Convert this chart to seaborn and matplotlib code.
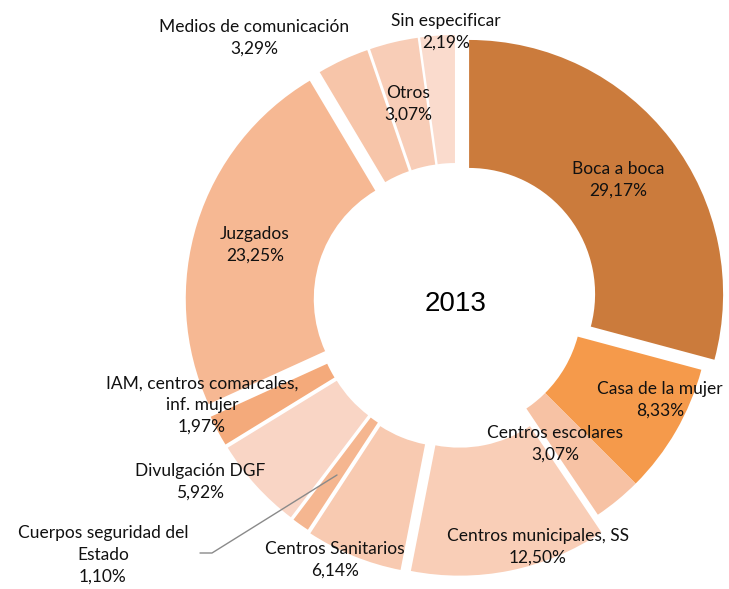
import matplotlib
matplotlib.use("Agg")
import matplotlib.pyplot as plt
import seaborn as sns

# Canales de conocimiento del servicio, año 2013 (porcentaje)
categorias = [
    "Boca a boca",
    "Casa de la mujer",
    "Centros escolares",
    "Centros municipales, SS",
    "Centros Sanitarios",
    "Cuerpos seguridad del\nEstado",
    "Divulgación DGF",
    "IAM, centros comarcales,\ninf. mujer",
    "Juzgados",
    "Medios de comunicación",
    "Otros",
    "Sin especificar",
]
porcentajes = [29.17, 8.33, 3.07, 12.50, 6.14, 1.10, 5.92, 1.97, 23.25, 3.29, 3.07, 2.19]
colores = ["#CB7B3C", "#F59A4B", "#F7C2A4", "#F9CEB7", "#F8CAB1", "#F5B690",
           "#F9D5C5", "#F4AA7B", "#F6B893", "#F7C5A9", "#F8CDB7", "#FADBCD"]
anio = "2013"

# desplazamiento de cada porción (px) y posición de sus etiquetas (px)
separacion = [16.5, 0, 0, 18, 18, 16, 16, 16, 17, 15, 15, 15]
pos_etiquetas = [(618, 180), (660, 400), (555, 444), (538, 547), (335, 560),
                 (103, 555), (200, 482), (202, 405), (255, 245), (254, 38),
                 (408, 104), (446, 32)]

sns.set_theme(style="white")
plt.rcParams["font.family"] = ["Lato", "DejaVu Sans"]

fig = plt.figure(figsize=(7.29, 5.89), dpi=100)
ax = fig.add_axes([0, 0, 1, 1])

cx, cy, radio, ancho = 456, 304, 254, 128
ax.pie(porcentajes, colors=sns.color_palette(colores), explode=separacion,
       center=(cx, cy), radius=radio, startangle=-90, counterclock=True,
       wedgeprops=dict(width=ancho, linewidth=0))

ax.set_xlim(0, 729)
ax.set_ylim(589, 0)
ax.set_aspect("equal")
ax.axis("off")

def fmt(v):
    return f"{v:.2f}".replace(".", ",") + "%"

for cat, val, (x, y) in zip(categorias, porcentajes, pos_etiquetas):
    ax.text(x, y, f"{cat}\n{fmt(val)}", ha="center", va="center",
            fontsize=12.5, color="#111111", linespacing=1.45)

# línea guía para la porción pequeña
ax.plot([200, 212, 337], [553, 553, 475], color="#8a8a8a", linewidth=1)

ax.text(cx, cy, anio, ha="center", va="center", fontsize=20,
        family="Liberation Sans", color="#000000")

fig.savefig("out.png", dpi=100)
